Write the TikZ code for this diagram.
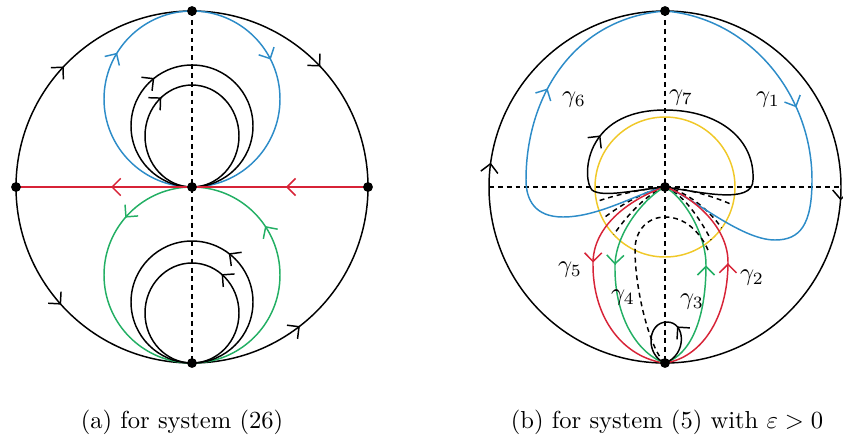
\documentclass[tikz,border=0pt]{standalone}
\usetikzlibrary{arrows.meta,decorations.markings}
\definecolor{pblue}{RGB}{45,140,200}
\definecolor{pred}{RGB}{215,35,55}
\definecolor{pgreen}{RGB}{35,175,100}
\definecolor{pyellow}{RGB}{240,200,40}
\begin{document}
\begin{tikzpicture}[x=0.0143cm, y=-0.0143cm, line width=0.6pt]
    \tikzset{dot/.style={circle, fill, inner sep=0pt, minimum size=4pt},
             arr/.style={postaction={decorate, decoration={markings,
               mark=at position #1 with {\arrow{Straight Barb[length=3.5pt,width=7pt]}}}}},
             sepx/.style={dash pattern=on 2pt off 1.6pt}}
    \useasboundingbox (0,0) rectangle (843,439);
    % left portrait
    \coordinate (Lc) at (192,187);
    \coordinate (Lt) at (192,11);
    \coordinate (Lb) at (192,363);
    \coordinate (Ll) at (16,187);
    \coordinate (Lr) at (368,187);
    \draw[arr=0.24, arr=0.76] (Ll) arc (180:360:176);
    \draw[arr=0.233, arr=0.71] (Ll) arc (180:0:176);
    \draw[sepx] (Lt) -- (Lb);
    \draw[pblue, arr=0.338, arr=0.676] (Lc) arc (90:450:88);
    \draw[arr=0.394] (Lc) arc (90:450:61);
    \draw[arr=0.39] (Lc) arc [start angle=90, end angle=450, x radius=47, y radius=51];
    \draw[pgreen, arr=0.137, arr=0.844] (Lc) arc (270:-90:88);
    \draw[arr=0.397] (Lb) arc (90:-270:61);
    \draw[arr=0.394] (Lb) arc [start angle=90, end angle=-270, x radius=47, y radius=50];
    \draw[pred, arr=0.233, arr=0.73] (Lr) -- (Ll);
    \node (capa) at (182,422) {(a) for system (26)};
    % right portrait
    \coordinate (Rc) at (665,187);
    \coordinate (Rt) at (665,11);
    \coordinate (Rb) at (665,363);
    \coordinate (Rl) at (489,187);
    \coordinate (Rr) at (841,187);
    \draw[arr=0.022, arr=0.512] (Rl) arc (180:540:176);
    \draw[sepx] (Rl) -- (Rr);
    \draw[sepx] (Rt) -- (Rb);
    \draw[pyellow] (Rc) circle (70);
    % fan near the origin
    \draw[sepx] (Rc) .. controls (640,189) and (612,196) .. (596.5,201.6);
    \draw[sepx] (Rc) .. controls (640,192) and (614,210) .. (602.6,218.8);
    \draw[sepx] (Rc) .. controls (645,194) and (622,222) .. (613.8,234.7);
    \draw[sepx] (Rc) .. controls (690,189) and (718,198) .. (732.6,205);
    \draw[sepx] (Rc) .. controls (690,192) and (712,214) .. (721.6,228);
    \draw[sepx] (Rc) .. controls (685,194) and (704,226) .. (711,240);
    % gamma_1 and gamma_6
    \draw[pblue, arr=0.38] (Rt) .. controls (750,18) and (812,95) .. (812,180)
        .. controls (812,225) and (800,240) .. (775,240)
        .. controls (740,240) and (690,195) .. (Rc);
    \draw[pblue, arr=0.64] (Rc) .. controls (640,192) and (600,217) .. (563,217)
        .. controls (535,217) and (526,200) .. (526,180)
        .. controls (526,95) and (575,18) .. (Rt);
    % gamma_7
    \draw[arr=0.31] (Rc) .. controls (635,190) and (602,198) .. (592,190)
        .. controls (582,180) and (582,110) .. (665,110)
        .. controls (720,110) and (755,140) .. (753,180)
        .. controls (753,205) and (700,192) .. (Rc);
    % gamma_2 ... gamma_5
    \draw[pred, arr=0.45] (Rc) .. controls (640,195) and (594,220) .. (593,262)
        .. controls (592,320) and (625,358) .. (Rb);
    \draw[pgreen, arr=0.45] (Rc) .. controls (648,195) and (616,230) .. (615,265)
        .. controls (614,320) and (640,355) .. (Rb);
    \draw[pgreen, arr=0.55] (Rb) .. controls (690,355) and (706,320) .. (706,265)
        .. controls (706,235) and (685,198) .. (Rc);
    \draw[pred, arr=0.55] (Rb) .. controls (700,358) and (728,320) .. (728,262)
        .. controls (728,225) and (690,195) .. (Rc);
    % loops at the bottom point
    \draw[sepx] (Rb) .. controls (650,350) and (635,290) .. (635,250)
        .. controls (635,230) and (648,217) .. (665,217)
        .. controls (685,217) and (700,232) .. (708,250);
    \draw[arr=0.4] (Rb) .. controls (687,355) and (686,322) .. (667,322)
        .. controls (647,322) and (645,355) .. (Rb);
    % labels
    \node (g1) at (768,100) {$\gamma_1$};
    \node (g2) at (752,278) {$\gamma_2$};
    \node (g3) at (692,302) {$\gamma_3$};
    \node (g4) at (623,298) {$\gamma_4$};
    \node (g5) at (570,270) {$\gamma_5$};
    \node (g6) at (574,100) {$\gamma_6$};
    \node (g7) at (681,98) {$\gamma_7$};
    \node (capb) at (667,422) {(b) for system (5) with $\varepsilon>0$};
    % equilibria
    \foreach \p in {Lc,Lt,Lb,Ll,Lr,Rc,Rt,Rb}
      \node[dot] (d\p) at (\p) {};
\end{tikzpicture}
\end{document}
